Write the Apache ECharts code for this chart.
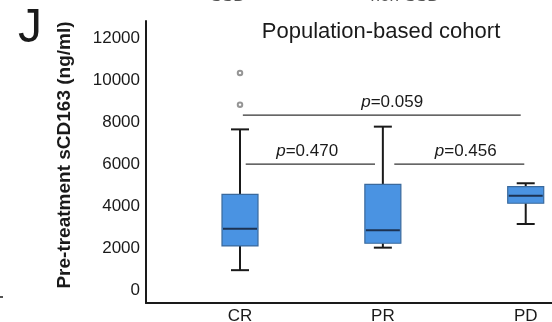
<!DOCTYPE html>
<html>
<head>
<meta charset="utf-8">
<title>Pre-treatment sCD163 by response</title>
<script src="https://cdn.jsdelivr.net/npm/echarts@6/dist/echarts.min.js"></script>
<style>
  html, body { margin: 0; padding: 0; background: #fff; }
  #chart { width: 552px; height: 322px; }
</style>
</head>
<body>
<div id="chart"></div>
<script>
// Response groups and their box-plot statistics (ng/ml)
const categories = ['CR', 'PR', 'PD'];
const boxMin    = [960, 2030, 3155];
const boxQ1     = [2110, 2240, 4140];
const boxMedian = [2930, 2855, 4500];
const boxQ3     = [4565, 5040, 4930];
const boxMax    = [7650, 7780, 5090];

// Outliers: group position (1 = CR) and value
const outlierGroup = [1, 1];
const outlierValue = [10330, 8825];

// Y axis labels
const yTicks = [0, 2000, 4000, 6000, 8000, 10000, 12000];

// Pairwise comparisons: span on the group axis, height and p value
const pValues = ['0.470', '0.456', '0.059'];
const pFrom   = [1.04, 2.08, 1.02];
const pTo     = [1.945, 2.99, 2.965];
const pLevel  = [6000, 6000, 8330];
const pTextAt = [1.47, 2.58, 2.065];

const FONT = 'Arial, "Liberation Sans", Helvetica, sans-serif';
const INK = '#1a1a1a';

const boxData = categories.map((c, i) =>
  [i + 1, boxMin[i], boxQ1[i], boxMedian[i], boxQ3[i], boxMax[i]]);
const outlierData = outlierGroup.map((g, i) => [g, outlierValue[i]]);
const bracketData = pValues.map((p, i) => [pFrom[i], pTo[i], pLevel[i], pTextAt[i]]);

const chart = echarts.init(document.getElementById('chart'), null, { renderer: 'canvas' });

chart.setOption({
  animation: false,
  backgroundColor: '#fff',
  title: {
    text: 'Population-based cohort',
    left: 381,
    top: 21,
    padding: 0,
    textAlign: 'center',
    textStyle: { fontFamily: FONT, fontSize: 22, fontWeight: 'normal', color: INK }
  },
  grid: { left: 146, right: 0, top: 21, bottom: 19, containLabel: false, outerBoundsMode: 'none' },
  xAxis: {
    type: 'value',
    min: 0.342,
    max: 3.184,
    axisLine: { show: true, onZero: false, lineStyle: { color: INK, width: 2 } },
    axisTick: { show: false },
    splitLine: { show: false },
    axisLabel: {
      customValues: [1, 2, 3],
      formatter: v => categories[Math.round(v) - 1] || '',
      margin: 5,
      fontFamily: FONT,
      fontSize: 17,
      color: INK
    }
  },
  yAxis: {
    type: 'value',
    min: -600,
    max: 12800,
    axisLine: { show: true, onZero: false, lineStyle: { color: INK, width: 2 } },
    axisTick: { show: false },
    splitLine: { show: false },
    axisLabel: {
      customValues: yTicks,
      formatter: v => String(Math.round(v)),
      margin: 6,
      fontFamily: FONT,
      fontSize: 17,
      color: INK
    }
  },
  graphic: [
    {
      type: 'text', x: 30, y: 29,
      style: { text: 'J', fontFamily: FONT, fontSize: 48, fill: INK, align: 'center', verticalAlign: 'middle' }
    },
    {
      type: 'text', x: 65, y: 155, rotation: Math.PI / 2,
      style: {
        text: 'Pre-treatment sCD163 (ng/ml)', fontFamily: FONT, fontSize: 19, fontWeight: 'bold',
        fill: INK, align: 'center', verticalAlign: 'middle'
      }
    },
    {
      type: 'text', x: 228, y: 5,
      style: { text: 'SSD', fontFamily: FONT, fontSize: 17, fill: '#555', align: 'center', verticalAlign: 'bottom' }
    },
    {
      type: 'text', x: 405, y: 5,
      style: { text: 'non-SSD', fontFamily: FONT, fontSize: 17, fill: '#555', align: 'center', verticalAlign: 'bottom' }
    },
    {
      type: 'line', shape: { x1: 0, y1: 297, x2: 3, y2: 297 },
      style: { stroke: INK, lineWidth: 1.5 }
    }
  ],
  series: [
    {
      type: 'custom',
      name: 'sCD163',
      data: boxData,
      encode: { x: 0, y: [1, 2, 3, 4, 5] },
      z: 3,
      renderItem(params, api) {
        const x = api.value(0);
        const lo = api.coord([x, api.value(1)]);
        const q1 = api.coord([x, api.value(2)]);
        const md = api.coord([x, api.value(3)]);
        const q3 = api.coord([x, api.value(4)]);
        const hi = api.coord([x, api.value(5)]);
        const bw = api.size([0.252, 0])[0];
        const cw = bw / 2;
        const cx = lo[0];
        const whisker = { stroke: INK, lineWidth: 2 };
        return {
          type: 'group',
          children: [
            { type: 'line', shape: { x1: cx, y1: q3[1], x2: cx, y2: hi[1] }, style: whisker },
            { type: 'line', shape: { x1: cx, y1: q1[1], x2: cx, y2: lo[1] }, style: whisker },
            { type: 'line', shape: { x1: cx - cw / 2, y1: hi[1], x2: cx + cw / 2, y2: hi[1] }, style: whisker },
            { type: 'line', shape: { x1: cx - cw / 2, y1: lo[1], x2: cx + cw / 2, y2: lo[1] }, style: whisker },
            {
              type: 'rect',
              shape: { x: cx - bw / 2, y: q3[1], width: bw, height: q1[1] - q3[1] },
              style: { fill: '#4a93e2', stroke: '#3a699c', lineWidth: 1.2 }
            },
            {
              type: 'line',
              shape: { x1: cx - bw / 2 + 1, y1: md[1], x2: cx + bw / 2 - 1, y2: md[1] },
              style: { stroke: '#1c3252', lineWidth: 2 }
            }
          ]
        };
      }
    },
    {
      type: 'scatter',
      name: 'Outliers',
      data: outlierData,
      symbol: 'emptyCircle',
      symbolSize: 4.5,
      itemStyle: { color: '#7a7a7a', borderColor: '#7a7a7a', borderWidth: 1 },
      z: 4
    },
    {
      type: 'custom',
      name: 'Comparisons',
      data: bracketData,
      encode: { x: [0, 1, 3], y: 2 },
      z: 2,
      renderItem(params, api) {
        const y = api.value(2);
        const a = api.coord([api.value(0), y]);
        const b = api.coord([api.value(1), y]);
        const t = api.coord([api.value(3), y]);
        return {
          type: 'group',
          children: [
            {
              type: 'line',
              shape: { x1: a[0], y1: a[1], x2: b[0], y2: b[1] },
              style: { stroke: '#333', lineWidth: 1.2 }
            },
            {
              type: 'text',
              x: t[0],
              y: t[1] - 13,
              style: {
                text: '{i|p}=' + pValues[params.dataIndex],
                fontFamily: FONT,
                fontSize: 17,
                fill: INK,
                align: 'center',
                verticalAlign: 'middle',
                rich: { i: { fontStyle: 'italic', fontFamily: FONT, fontSize: 17, fill: INK } }
              }
            }
          ]
        };
      }
    }
  ]
});
</script>
</body>
</html>
